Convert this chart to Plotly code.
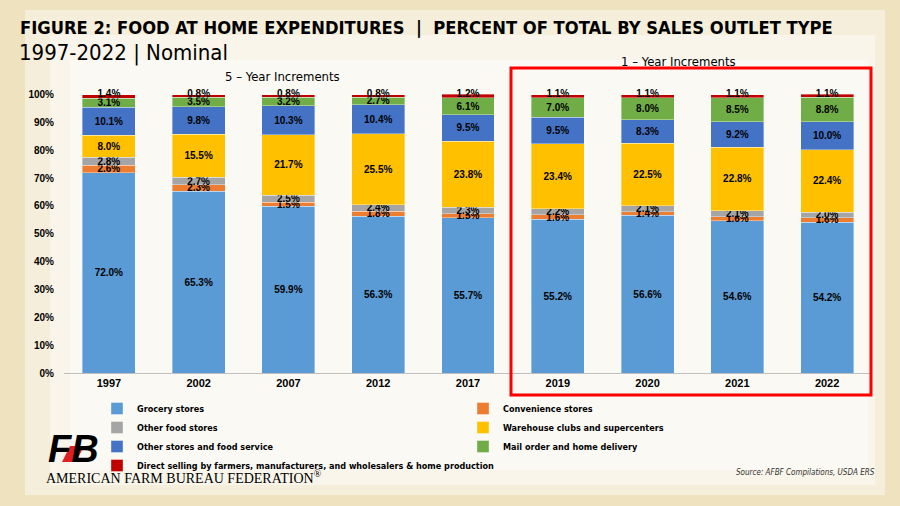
import plotly.graph_objects as go

years = ["1997", "2002", "2007", "2012", "2017", "2019", "2020", "2021", "2022"]
grocery = [72.0, 65.3, 59.9, 56.3, 55.7, 55.2, 56.6, 54.6, 54.2]
convenience = [2.6, 2.3, 1.5, 1.8, 1.5, 1.6, 1.4, 1.6, 1.6]
other_food = [2.8, 2.7, 2.5, 2.4, 2.3, 2.2, 2.1, 2.1, 2.0]
warehouse = [8.0, 15.5, 21.7, 25.5, 23.8, 23.4, 22.5, 22.8, 22.4]
other_stores = [10.1, 9.8, 10.3, 10.4, 9.5, 9.5, 8.3, 9.2, 10.0]
mail_order = [3.1, 3.5, 3.2, 2.7, 6.1, 7.0, 8.0, 8.5, 8.8]
direct = [1.4, 0.8, 0.8, 0.8, 1.2, 1.1, 1.1, 1.1, 1.1]
y_ticks = [0, 10, 20, 30, 40, 50, 60, 70, 80, 90, 100]

series = [
    ("Grocery stores", grocery, "#5B9BD5"),
    ("Convenience stores", convenience, "#ED7D31"),
    ("Other food stores", other_food, "#A5A5A5"),
    ("Warehouse clubs and supercenters", warehouse, "#FFC000"),
    ("Other stores and food service", other_stores, "#4472C4"),
    ("Mail order and home delivery", mail_order, "#70AD47"),
    ("Direct selling by farmers, manufacturers, and wholesalers & home production", direct, "#C00000"),
]

COND = "DejaVu Sans Condensed, Liberation Sans, sans-serif"

# plot area in pixels
L, R, T, B = 64, 872, 94, 373
def px(x):
    return (x - L) / (R - L)
def py(y):
    return (B - y) / (B - T)

fig = go.Figure()
label_font = dict(family="Liberation Sans", size=10, color="black")
for i, (name, vals, col) in enumerate(series):
    last = i == len(series) - 1
    fig.add_trace(go.Bar(
        x=years, y=vals, name=name,
        marker=dict(color=col, line=dict(color="rgba(255,255,255,0.6)", width=0.6)),
        text=None if last else [f"<b>{v:.1f}%</b>" for v in vals],
        textposition="inside",
        insidetextanchor="middle",
        textangle=0,
        constraintext="none",
        textfont=label_font,
        cliponaxis=False,
        width=0.59,
    ))

totals = [sum(s[1][j] for s in series) for j in range(len(years))]
fig.add_trace(go.Scatter(
    x=years, y=totals, mode="text",
    text=[f"<b>{v:.1f}%</b>" for v in direct],
    textposition="middle center", textfont=label_font,
    showlegend=False, hoverinfo="skip", cliponaxis=False,
))

shapes = [
    dict(type="rect", xref="paper", yref="paper", x0=px(25), x1=px(885), y0=py(495), y1=py(10),
         fillcolor="#F5EEDB", line=dict(width=0), layer="below"),
    dict(type="rect", xref="paper", yref="paper", x0=px(50), x1=px(875), y0=py(485), y1=py(35),
         fillcolor="#F9F5EA", line=dict(width=0), layer="below"),
    dict(type="rect", xref="paper", yref="paper", x0=px(70), x1=px(868), y0=py(470), y1=py(60),
         fillcolor="#FBF9F3", line=dict(width=0), layer="below"),
    dict(type="rect", xref="paper", yref="paper", x0=px(511), x1=px(871), y0=py(395), y1=py(68),
         fillcolor="rgba(0,0,0,0)", line=dict(color="#FF0000", width=3)),
    # red slash of the logo
    dict(type="path", xref="paper", yref="paper",
         path=f"M {px(62)} {py(462)} L {px(76)} {py(462)} L {px(84)} {py(446)} L {px(70)} {py(446)} Z",
         fillcolor="#E02020", line=dict(width=0)),
]

def ann(text, x, y, xanchor, size, family=COND, color="black"):
    return dict(text=text, x=px(x), y=py(y), xref="paper", yref="paper", xanchor=xanchor,
                yanchor="middle", showarrow=False, font=dict(family=family, size=size, color=color))

annotations = [
    ann("<b>FIGURE 2: FOOD AT HOME EXPENDITURES  |  PERCENT OF TOTAL BY SALES OUTLET TYPE</b>",
        18, 27, "left", 18.2),
    ann("1997-2022 | Nominal", 17, 53, "left", 22),
    ann("5 – Year Increments", 282, 76, "center", 13),
    ann("1 – Year Increments", 678, 61, "center", 13),
    ann("<i>Source: AFBF Compilations, USDA ERS</i>", 877, 472, "right", 8, color="#333"),
    ann("AMERICAN FARM BUREAU FEDERATION<sup>®</sup>", 44, 477, "left", 14, family="Liberation Serif"),
    ann("<b><i>FB</i></b>", 46, 449, "left", 38, family="Liberation Sans"),
]

fig.update_layout(
    width=900, height=506,
    barmode="stack",
    margin=dict(l=L, r=900 - R, t=T, b=506 - B, pad=0, autoexpand=False),
    paper_bgcolor="#EEE2BF",
    plot_bgcolor="rgba(0,0,0,0)",
    shapes=shapes,
    annotations=annotations,
    legend=dict(
        orientation="h", x=px(97), y=py(394), xanchor="left", yanchor="top",
        entrywidth=321, entrywidthmode="pixels", traceorder="normal",
        font=dict(family=COND, size=9, color="black", weight="bold"),
        bgcolor="rgba(0,0,0,0)", itemwidth=30,
    ),
    xaxis=dict(
        type="category", range=[-0.5, 8.5], showgrid=False, showline=True, linecolor="#BFBFBF",
        linewidth=1, ticks="", tickfont=dict(family="Liberation Sans", size=11, color="black"),
        tickprefix="<b>", ticksuffix="</b>",
    ),
    yaxis=dict(
        range=[0, 100.2], tickmode="array", tickvals=y_ticks,
        ticktext=[f"<b>{v}%</b>" for v in y_ticks],
        showgrid=False, zeroline=False, showline=False, ticks="", ticklabelstandoff=9,
        tickfont=dict(family="Liberation Sans", size=10, color="black"),
    ),
)

fig.write_html("out.html", post_script="document.body.style.margin='0';",
               config={"displayModeBar": False})
